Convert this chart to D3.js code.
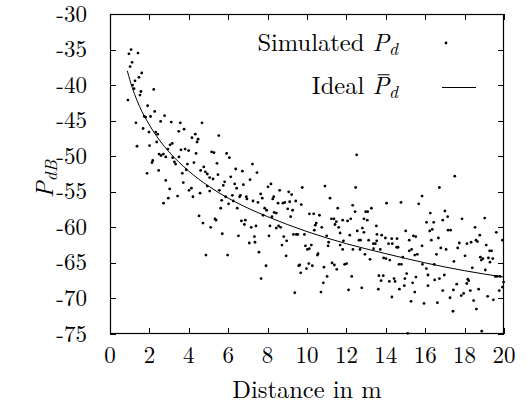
<!DOCTYPE html>
<html><head><meta charset="utf-8">
<script src="https://cdn.jsdelivr.net/npm/d3@7"></script>
<style>html,body{margin:0;padding:0;background:#fff;}</style></head>
<body><svg id="chart" width="527" height="405"></svg>
<script>
// Simulated received power samples (distance in m, power in dB)
const distance = [
 1.07,0.96,1.42,1.12,1.02,1.61,1.47,1.27,1.15,1.22,1.57,2.22,1.52,0.91,1.91,2.27,1.74,2.06,1.81,2.77,
 1.32,2.57,3.11,3.57,1.68,1.98,2.32,2.42,3.49,3.76,2.37,2.01,1.37,3.05,3.16,2.94,3.81,3.99,3.60,2.49,
 2.59,2.71,2.83,3.18,3.50,2.17,2.13,3.27,3.33,3.93,2.47,3.87,1.88,3.67,2.83,3.72,3.03,4.01,2.96,3.43,2.72,
 4.67,4.33,4.16,4.47,4.42,5.52,4.37,5.16,5.28,5.92,6.06,4.26,5.43,4.76,4.60,4.84,4.94,5.06,5.23,5.48,
 6.38,6.72,7.23,7.46,6.13,7.11,5.82,5.75,6.33,6.77,6.43,4.94,4.13,5.55,5.06,4.57,4.21,5.87,6.21,6.62,
 6.58,6.92,6.95,5.67,6.26,6.02,7.26,7.51,7.65,7.73,8.02,5.62,6.46,7.85,7.95,7.77,4.52,5.33,5.38,4.72,
 5.11,6.67,6.87,6.82,7.17,7.41,5.70,6.52,7.33,7.07,7.36,7.56,4.87,5.97,7.92,7.67,
 8.17,8.61,8.31,8.26,9.07,9.22,9.76,10.91,8.53,8.78,8.87,9.12,9.43,9.71,11.17,8.33,8.44,9.02,9.27,11.56,
 8.22,9.17,10.12,10.34,10.63,11.24,11.37,11.49,11.81,8.12,8.56,8.44,8.66,10.47,10.42,10.75,11.42,11.61,9.31,9.46,
 9.53,9.87,10.37,11.00,11.68,8.07,8.82,8.97,8.73,9.92,10.22,10.12,10.02,11.10,11.07,11.68,11.85,11.81,10.56,10.53,
 8.94,9.58,9.63,10.09,10.27,9.97,9.68,10.86,11.27,11.39,11.51,11.91,11.02,10.83,9.38,10.71,
 12.52,12.47,12.32,12.44,12.22,12.06,12.98,13.08,13.27,12.89,13.06,14.04,14.77,15.84,15.67,13.52,12.55,12.81,12.89,12.17,
 12.64,12.72,13.13,13.55,13.79,13.98,13.54,13.37,13.47,14.30,14.57,15.01,15.19,15.40,15.52,15.84,12.33,12.69,12.94,13.20,
 13.38,13.72,14.14,14.33,14.55,14.62,13.89,14.01,14.20,14.86,14.67,14.79,15.19,15.31,15.47,15.60,12.01,12.27,13.65,13.87,
 13.76,14.18,14.42,14.47,15.06,14.97,14.94,14.69,15.53,15.36,15.47,12.11,12.78,13.62,14.31,15.28,15.94,15.11,
 17.50,16.72,17.00,16.26,16.89,17.14,16.07,16.43,17.87,19.02,18.53,16.23,16.36,17.16,17.29,18.77,19.61,16.31,16.67,17.73,
 17.65,18.12,18.33,18.58,18.65,19.10,19.27,19.37,19.92,16.79,17.06,16.57,18.02,18.80,18.93,19.21,19.43,19.29,18.85,15.86,
 16.06,16.46,17.46,18.39,19.05,19.56,19.66,19.80,16.14,16.97,16.48,16.72,18.16,18.21,18.11,17.60,19.98,16.14,16.89,17.43,
 17.83,17.95,18.71,18.29,19.76,19.17,19.46,19.92,17.26,18.46,16.62,17.41,18.60,18.87
];
const simulated = [
 -35.0,-35.6,-35.5,-36.8,-37.4,-38.3,-38.9,-39.4,-40.0,-40.5,-40.9,-40.6,-41.4,-42.1,-42.9,-43.7,-44.4,-44.4,-44.5,-44.3,
 -45.3,-45.1,-45.2,-45.3,-46.1,-46.6,-46.6,-46.9,-46.5,-46.2,-48.0,-48.5,-48.6,-48.4,-48.2,-49.0,-49.0,-49.2,-49.1,-49.7,
 -49.9,-49.7,-50.1,-50.2,-50.1,-50.6,-50.9,-50.8,-51.1,-51.1,-52.0,-51.9,-52.4,-52.4,-53.4,-53.7,-54.6,-54.8,-55.9,-55.6,-56.6,
 -45.3,-46.9,-47.4,-47.6,-48.0,-47.1,-49.6,-49.4,-49.5,-49.6,-50.2,-50.9,-51.0,-51.5,-52.0,-52.2,-52.5,-53.0,-53.2,-52.6,
 -51.8,-52.1,-51.1,-52.3,-52.9,-53.3,-53.6,-54.1,-53.9,-54.0,-54.5,-54.2,-54.5,-54.8,-54.9,-55.2,-55.7,-55.7,-55.5,-55.5,
 -55.7,-55.7,-56.0,-56.2,-56.3,-56.7,-56.3,-56.5,-55.3,-55.9,-54.3,-57.3,-57.3,-57.3,-57.6,-58.3,-58.4,-58.8,-59.0,-59.4,
 -60.0,-59.1,-59.0,-59.6,-60.0,-59.8,-60.9,-61.2,-61.3,-62.2,-62.1,-63.5,-63.9,-63.9,-65.4,-67.2,
 -53.9,-54.8,-55.7,-56.0,-55.0,-55.4,-54.4,-54.2,-56.6,-56.6,-56.5,-56.4,-56.3,-56.8,-55.9,-57.9,-58.0,-57.4,-57.6,-57.3,
 -58.5,-58.5,-58.1,-58.1,-58.3,-58.8,-58.8,-59.2,-59.0,-59.8,-59.8,-60.1,-60.0,-59.4,-59.7,-60.0,-59.6,-60.0,-61.0,-61.0,
 -61.0,-61.0,-60.4,-61.2,-60.8,-61.2,-61.3,-61.9,-62.5,-62.6,-62.5,-63.0,-63.1,-62.1,-62.6,-62.5,-61.9,-63.1,-63.7,-63.9,
 -64.0,-65.4,-65.3,-65.1,-65.4,-65.8,-66.4,-65.6,-65.0,-65.3,-65.9,-65.2,-66.9,-67.8,-69.2,-69.1,
 -49.8,-54.4,-56.9,-57.8,-58.8,-59.1,-57.8,-57.8,-57.3,-58.8,-59.0,-56.6,-56.5,-55.6,-56.7,-59.8,-60.5,-60.1,-60.7,-61.1,
 -61.8,-61.8,-61.8,-61.0,-61.1,-61.5,-61.9,-62.3,-62.3,-61.6,-61.6,-60.5,-61.8,-61.2,-61.3,-62.6,-63.1,-63.1,-63.8,-64.5,
 -63.0,-63.1,-62.3,-62.3,-62.8,-62.8,-64.3,-64.4,-64.6,-64.2,-65.2,-65.2,-63.3,-63.1,-63.9,-63.8,-65.1,-66.9,-66.8,-66.8,
 -67.5,-67.6,-67.2,-67.6,-66.5,-67.2,-68.2,-68.7,-67.0,-67.8,-69.1,-68.8,-68.5,-68.7,-69.8,-70.4,-70.7,-74.9,
 -52.8,-54.4,-57.7,-58.0,-59.0,-58.5,-59.3,-59.3,-58.8,-58.7,-60.0,-60.5,-60.3,-60.4,-60.4,-61.1,-60.7,-61.8,-61.5,-62.2,
 -62.9,-62.3,-62.1,-61.8,-62.0,-62.5,-63.3,-63.3,-61.8,-62.9,-63.1,-63.8,-64.0,-64.2,-64.4,-64.3,-64.4,-64.9,-64.6,-65.2,
 -65.8,-65.2,-64.8,-65.7,-66.0,-66.9,-66.9,-66.9,-66.7,-66.7,-67.4,-67.2,-67.3,-67.5,-67.9,-68.0,-67.7,-68.2,-68.9,-68.8,
 -69.6,-69.3,-68.7,-68.9,-68.9,-69.7,-70.2,-68.4,-69.9,-70.3,-70.6,-71.8,-71.5,-74.6
];
// Ideal mean power curve samples
const idealDistance = [0.88,1,1.25,1.5,2,2.5,3,4,5,6,7,8,10,12,14,16,18,20];
const idealPower = [-38.0,-39.2,-41.3,-43.0,-45.6,-47.7,-49.4,-52.1,-54.2,-55.9,-57.3,-58.5,-60.6,-62.3,-63.7,-65.0,-66.1,-67.0];
const xTicks = [0,2,4,6,8,10,12,14,16,18,20];
const yTicks = [-30,-35,-40,-45,-50,-55,-60,-65,-70,-75];

const FONT = "'Latin Modern Roman','Liberation Serif',serif";
const FS = 24.5, SUB = 17.5;
const svg = d3.select("#chart");
const L = 110, T = 14, R = 504, B = 334;
const x = d3.scaleLinear().domain([0,20]).range([L,R]);
const y = d3.scaleLinear().domain([-75,-30]).range([B,T]);

function txt(xp, yp, anchor, fs){
  return svg.append("text").attr("x",xp).attr("y",yp).attr("text-anchor",anchor)
    .attr("font-size",fs||FS).style("font-family",FONT).attr("fill","#000");
}

// ticks (inward, mirrored)
const tk = 6;
const g = svg.append("g").attr("stroke","#000").attr("stroke-width",1);
xTicks.forEach(v=>{
  const px = Math.round(x(v))+0.5;
  g.append("line").attr("x1",px).attr("x2",px).attr("y1",B).attr("y2",B-tk);
  g.append("line").attr("x1",px).attr("x2",px).attr("y1",T).attr("y2",T+tk);
});
yTicks.forEach(v=>{
  const py = Math.round(y(v))+0.5;
  g.append("line").attr("x1",L).attr("x2",L+tk).attr("y1",py).attr("y2",py);
  g.append("line").attr("x1",R).attr("x2",R-tk).attr("y1",py).attr("y2",py);
});
svg.append("rect").attr("x",L+0.5).attr("y",T+0.5).attr("width",R-L-1).attr("height",B-T-1)
  .attr("fill","none").attr("stroke","#000").attr("stroke-width",1.2);

// tick labels
xTicks.forEach(v=>{ txt(x(v),363,"middle",23).text(v); });
yTicks.forEach(v=>{ txt(87,y(v)+7.6,"end",23).text(v); });

// axis labels
txt((L+R)/2,398,"middle").text("Distance in m");
const yl = svg.append("text").attr("transform","translate(53,179) rotate(-90)")
  .attr("text-anchor","middle").attr("font-size",FS).style("font-family",FONT);
yl.append("tspan").attr("font-style","italic").text("P");
yl.append("tspan").attr("font-style","italic").attr("font-size",SUB).attr("dy",4).text("dB");

// scatter
svg.append("g").selectAll("circle").data(distance).join("circle")
  .attr("cx",d=>x(d)).attr("cy",(d,i)=>y(simulated[i])).attr("r",1.4).attr("fill","#000");

// ideal curve
const line = d3.line().x(d=>x(d[0])).y(d=>y(d[1])).curve(d3.curveMonotoneX);
svg.append("path").datum(idealDistance.map((d,i)=>[d,idealPower[i]]))
  .attr("d",line).attr("fill","none").attr("stroke","#000").attr("stroke-width",1);

// legend
const lx = 398;
const t1 = txt(lx,51,"end");
t1.append("tspan").text("Simulated ");
t1.append("tspan").attr("font-style","italic").text("P");
t1.append("tspan").attr("font-style","italic").attr("font-size",SUB).attr("dy",4).text("d");
svg.append("circle").attr("cx",446).attr("cy",43).attr("r",1.4).attr("fill","#000");
const base2 = 94;
const t2 = txt(lx,base2,"end");
t2.append("tspan").text("Ideal ");
t2.append("tspan").attr("font-style","italic").text("P");
t2.append("tspan").attr("font-style","italic").attr("font-size",SUB).attr("dy",4).text("d");
// bar over P
const ext = t2.node().getExtentOfChar(6);
const by = base2 - 0.683*FS - 2.5;
svg.append("line").attr("x1",ext.x + 0.32*ext.width).attr("x2",ext.x + ext.width + 0.5)
  .attr("y1",by).attr("y2",by).attr("stroke","#000").attr("stroke-width",1);
svg.append("line").attr("x1",442).attr("x2",476).attr("y1",87.5).attr("y2",87.5)
  .attr("stroke","#000").attr("stroke-width",1);
</script></body></html>
